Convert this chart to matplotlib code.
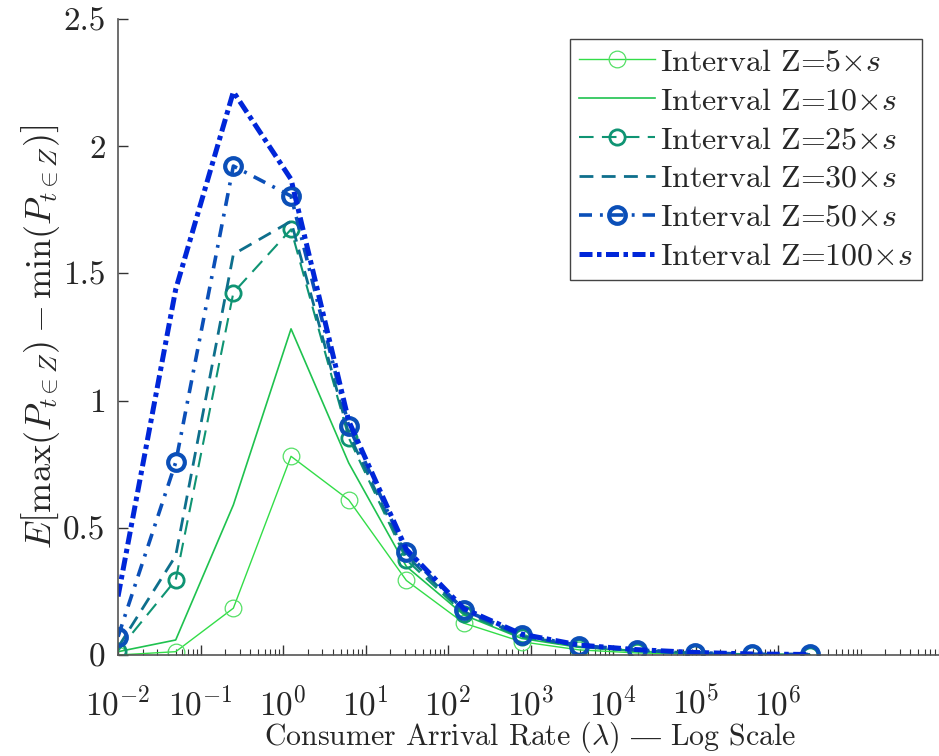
import matplotlib
matplotlib.use('Agg')
import matplotlib.pyplot as plt
import numpy as np
from matplotlib.ticker import LogLocator, NullFormatter

plt.rcParams['font.family'] = ['cmr10', 'DejaVu Serif']
plt.rcParams['mathtext.fontset'] = 'cm'
plt.rcParams['axes.formatter.use_mathtext'] = True

# arrival rates (x5 steps)
rates = [0.01, 0.05, 0.25, 1.25, 6.25, 31.25, 156.25, 781.25,
         3906.25, 19531.25, 97656.25, 488281.25, 2441406.25]

z5 = [0.0, 0.013, 0.184, 0.781, 0.61, 0.293, 0.125, 0.052, 0.02, 0.008, 0.004, 0.002, 0.001]
z10 = [0.013, 0.059, 0.59, 1.282, 0.755, 0.348, 0.157, 0.065, 0.03, 0.014, 0.006, 0.003, 0.001]
z25 = [0.017, 0.295, 1.424, 1.673, 0.854, 0.374, 0.162, 0.07, 0.032, 0.016, 0.007, 0.003, 0.001]
z30 = [0.03, 0.39, 1.575, 1.705, 0.87, 0.39, 0.17, 0.075, 0.035, 0.018, 0.008, 0.003, 0.002]
z50 = [0.072, 0.757, 1.922, 1.804, 0.90, 0.403, 0.177, 0.079, 0.037, 0.02, 0.009, 0.003, 0.002]
z100 = [0.23, 1.437, 2.214, 1.87, 0.92, 0.415, 0.182, 0.082, 0.039, 0.021, 0.01, 0.004, 0.002]

labels = [r'Interval Z=5$\times s$', r'Interval Z=10$\times s$', r'Interval Z=25$\times s$',
          r'Interval Z=30$\times s$', r'Interval Z=50$\times s$', r'Interval Z=100$\times s$']

fig = plt.figure(figsize=(9.39, 7.56), dpi=100)
ax = fig.add_axes([0.1257, 0.1336, 0.8786, 0.8413])

ax.plot(rates, z5, '-', color='#33dd48', lw=1.0, marker='o', ms=12,
        mfc='none', mec='#55e066', mew=0.9, label=labels[0])
ax.plot(rates, z10, '-', color='#1fc24f', lw=1.2, label=labels[1])
ax.plot(rates, z25, '--', color='#0f9473', lw=1.5, dashes=(7, 4), marker='o', ms=11,
        mfc='none', mew=2.0, label=labels[2])
ax.plot(rates, z30, '--', color='#0e6f8c', lw=2.0, dashes=(5, 3), label=labels[3])
ax.plot(rates, z50, '-.', color='#0b4fb8', lw=2.6, dashes=(3.6, 2.2, 0.8, 2.2), marker='o', ms=12,
        mfc='none', mew=3.0, label=labels[4])
ax.plot(rates, z100, '-.', color='#0026d9', lw=3.6, dashes=(2.6, 0.9, 0.9, 0.9), label=labels[5])

ax.set_xscale('log')
ax.set_xlim(1e-2, 1e8)
ax.set_ylim(0, 2.5)
ax.set_xticks([1e-2, 1e-1, 1e0, 1e1, 1e2, 1e3, 1e4, 1e5, 1e6])
ax.xaxis.set_minor_locator(LogLocator(base=10, subs=np.arange(1, 10) * 1.0, numticks=30))
ax.xaxis.set_minor_formatter(NullFormatter())
ax.set_yticks([0, 0.5, 1, 1.5, 2, 2.5])
ax.set_yticklabels(['0', '0.5', '1', '1.5', '2', '2.5'])

for s in ['top', 'right']:
    ax.spines[s].set_visible(False)
for s in ['left', 'bottom']:
    ax.spines[s].set_color('#555555')
    ax.spines[s].set_linewidth(1.2)
ax.tick_params(which='both', direction='in', color='#333333', labelsize=24, labelcolor='#262626')
ax.tick_params(which='major', length=7, width=1.0)
ax.tick_params(which='minor', length=4, width=0.8)
ax.tick_params(axis='x', pad=22)
ax.tick_params(axis='y', pad=9)

ax.set_xlabel('Consumer Arrival Rate ($\\lambda$) $\\mathrm{\u2014}$ Log Scale',
              fontsize=21.5, color='#262626', labelpad=-1)
ax.set_ylabel(r'$E\left[\max(P_{t\in Z})-\min(P_{t\in Z})\right]$', fontsize=26, color='#262626', labelpad=1)

leg = ax.legend(loc='upper right', bbox_to_anchor=(0.9745, 0.9686), borderaxespad=0,
                fontsize=23, handlelength=2.4, handletextpad=0.15, labelspacing=0.33,
                borderpad=0.28, fancybox=False, framealpha=1)
leg.get_frame().set_edgecolor('#444444')
leg.get_frame().set_linewidth(1.0)
for t in leg.get_texts():
    t.set_color('#262626')

fig.savefig('out.png', dpi=100)
